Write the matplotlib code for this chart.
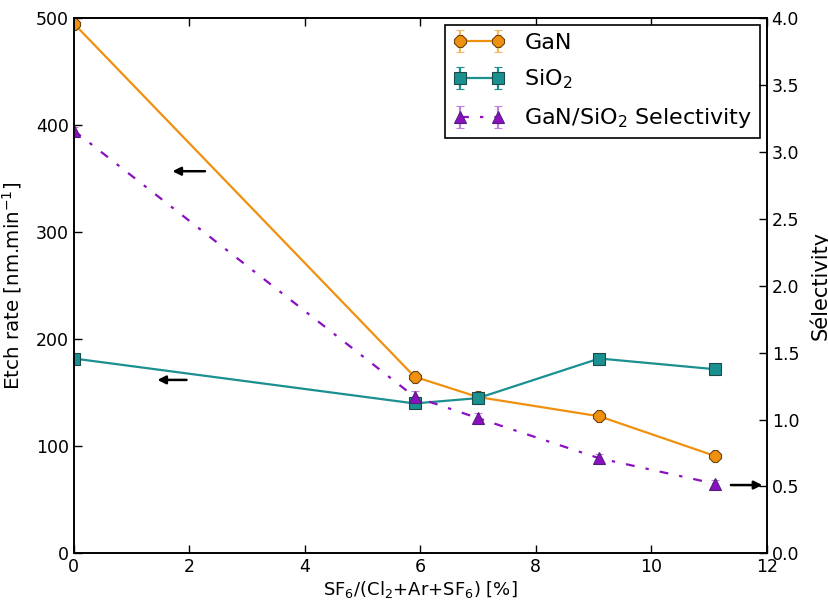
import matplotlib.pyplot as plt

# ratio SF6/(Cl2+Ar+SF6) in %
sf6 = [0.0, 5.9, 7.0, 9.1, 11.1]
gan_rate = [495, 165, 146, 128, 91]
gan_err = [3, 3, 3, 3, 3]
sio2_rate = [182, 140, 145, 182, 172]
sio2_err = [3, 3, 3, 3, 3]
selectivity = [3.16, 1.17, 1.01, 0.71, 0.52]
sel_err = [0.03, 0.04, 0.04, 0.03, 0.03]

c_gan = '#f0900f'
c_sio2 = '#1a9090'
c_sel = '#8a10c0'

fig, ax1 = plt.subplots(figsize=(8.29, 6.06), dpi=100)
fig.subplots_adjust(left=0.089, right=0.925, top=0.97, bottom=0.087)
ax2 = ax1.twinx()

h1 = ax1.errorbar(sf6, gan_rate, yerr=gan_err, color=c_gan, marker='8', markersize=9,
                  markeredgecolor='#6a4510', markeredgewidth=0.8, lw=1.6, capsize=3,
                  ecolor='#f5b860', label='GaN')
h2 = ax1.errorbar(sf6, sio2_rate, yerr=sio2_err, color=c_sio2, marker='s', markersize=9,
                  markeredgecolor='#1a4a4a', markeredgewidth=0.8, lw=1.6, capsize=3,
                  ecolor=c_sio2, label='SiO$_2$')
h3 = ax2.errorbar(sf6, selectivity, yerr=sel_err, color=c_sel, marker='^', markersize=9,
                  markeredgecolor='#50207a', markeredgewidth=0.8, lw=1.6, capsize=3,
                  ecolor='#c080e0', label='GaN/SiO$_2$ Selectivity')
h3[0].set_dashes([4, 5, 1.5, 5])

ax1.set_xlim(0, 12)
ax1.set_ylim(0, 500)
ax2.set_ylim(0, 4.0)
ax1.set_yticks([0, 100, 200, 300, 400, 500])
ax2.set_yticks([0.0, 0.5, 1.0, 1.5, 2.0, 2.5, 3.0, 3.5, 4.0])
ax1.set_xticks([0, 2, 4, 6, 8, 10, 12])

ax1.set_xlabel('SF$_6$/(Cl$_2$+Ar+SF$_6$) [%]', fontsize=13, labelpad=2)
ax1.set_ylabel('Etch rate [nm.min$^{-1}$]', fontsize=14.3)
ax2.set_ylabel('Sélectivity', fontsize=15)
ax1.yaxis.set_label_coords(-0.072, 0.5)
ax2.yaxis.set_label_coords(1.061, 0.5)

for ax in (ax1, ax2):
    ax.tick_params(direction='in', labelsize=12.5, length=6, width=1, top=True)
    for s in ax.spines.values():
        s.set_linewidth(1.2)

# arrows pointing to the axis of each curve
ax1.annotate('', xy=(1.66, 357), xytext=(2.32, 357),
             arrowprops=dict(arrowstyle='-|>', color='black', lw=1.8, mutation_scale=12))
ax1.annotate('', xy=(1.40, 162), xytext=(2.0, 162),
             arrowprops=dict(arrowstyle='-|>', color='black', lw=1.8, mutation_scale=12))
ax2.annotate('', xy=(11.97, 0.51), xytext=(11.33, 0.51),
             arrowprops=dict(arrowstyle='-|>', color='black', lw=1.8, mutation_scale=12))

leg = ax1.legend([h1, h2, h3], ['GaN', 'SiO$_2$', 'GaN/SiO$_2$ Selectivity'],
                 loc='upper right', numpoints=2, fontsize=16, fancybox=False,
                 framealpha=1, edgecolor='black', handlelength=2.3, labelspacing=0.68,
                 handletextpad=0.9, borderaxespad=0.3, borderpad=0.35)
leg.get_frame().set_linewidth(1.2)

plt.savefig('out.png')
